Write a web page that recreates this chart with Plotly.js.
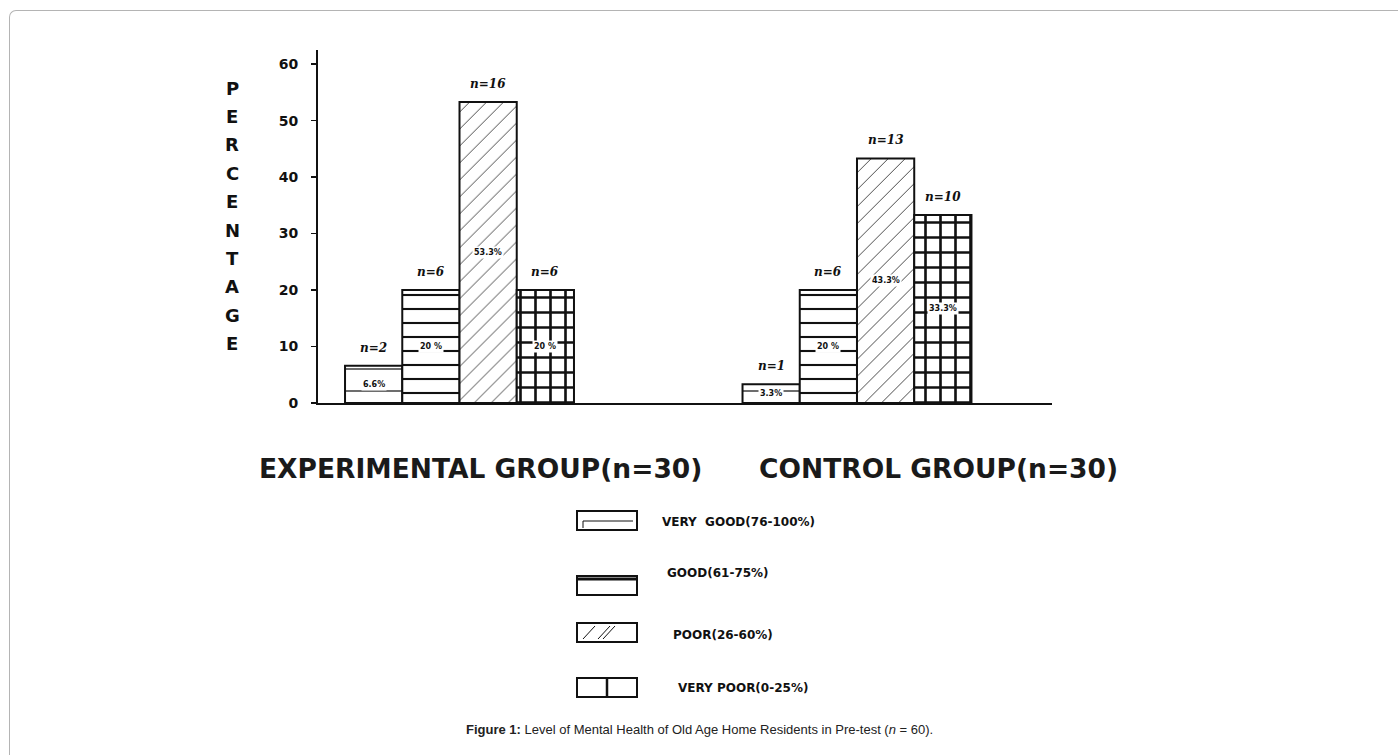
<!DOCTYPE html>
<html>
<head>
<meta charset="utf-8">
<script src="https://cdn.plot.ly/plotly-3.0.1.min.js"></script>
<style>
  html, body { margin: 0; padding: 0; background: #ffffff; overflow: hidden; }
  #wrap { position: relative; width: 1398px; height: 755px; }
  #chart { position: absolute; left: 0; top: 0; width: 1398px; height: 755px; }
  #frame { position: absolute; left: 9px; top: 10px; width: 1500px; height: 900px;
           border-top: 1.5px solid #b4b4b4; border-left: 1.5px solid #b4b4b4;
           border-top-left-radius: 7px; pointer-events: none; }
</style>
</head>
<body>
<div id="wrap">
  <div id="chart"></div>
  <div id="frame"></div>
</div>
<script>
// ---------------- data ----------------
const categories = ['EXPERIMENTAL GROUP(n=30)', 'CONTROL GROUP(n=30)'];
const seriesNames = ['VERY  GOOD(76-100%)', 'GOOD(61-75%)', 'POOR(26-60%)', 'VERY POOR(0-25%)'];
const veryGood = [6.6, 3.3];
const good = [20, 20];
const poor = [53.3, 43.3];
const veryPoor = [20, 33.3];
const nVeryGood = [2, 1];
const nGood = [6, 6];
const nPoor = [16, 13];
const nVeryPoor = [6, 10];
const pctVeryGood = ['6.6%', '3.3%'];
const pctGood = ['20 %', '20 %'];
const pctPoor = ['53.3%', '43.3%'];
const pctVeryPoor = ['20 %', '33.3%'];
const yTickVals = [0, 10, 20, 30, 40, 50, 60];
const yAxisWord = 'PERCENTAGE';
const caption = '<b>Figure 1:</b> Level of Mental Health of Old Age Home Residents in Pre-test (<i>n</i> = 60).';

// ---------------- layout geometry ----------------
const W = 1398, H = 755;
const M = { l: 318, r: 346, t: 50, b: 352 };
const plotW = W - M.l - M.r, plotH = H - M.t - M.b;
function px(x, y) { return { x: (x - M.l) / plotW, y: (H - M.b - y) / plotH }; }
const bargap = 0.424;
const barW = (1 - bargap) / 4;

const seriesValues = [veryGood, good, poor, veryPoor];
const seriesCounts = [nVeryGood, nGood, nPoor, nVeryPoor];
const seriesPct = [pctVeryGood, pctGood, pctPoor, pctVeryPoor];
const patterns = [
  { shape: '-', size: 22, solidity: 0.06, fgcolor: '#222', bgcolor: '#fff', fillmode: 'replace' },
  { shape: '-', size: 14, solidity: 0.15, fgcolor: '#111', bgcolor: '#fff', fillmode: 'replace' },
  { shape: '/', size: 12, solidity: 0.08, fgcolor: '#444', bgcolor: '#fff', fillmode: 'replace' },
  { shape: '+', size: 15, solidity: 0.32, fgcolor: '#111', bgcolor: '#fff', fillmode: 'replace' }
];

const traces = seriesValues.map((vals, k) => ({
  type: 'bar',
  name: seriesNames[k],
  x: categories,
  y: vals,
  marker: { color: '#fff', pattern: patterns[k], line: { color: '#111', width: 2 } },
  hoverinfo: 'name+y'
}));

const annotations = [];
// n= labels above bars and percentage labels inside bars
seriesValues.forEach((vals, k) => {
  vals.forEach((v, i) => {
    const xpos = i + (k - 1.5) * barW;
    annotations.push({
      x: xpos, y: v, xref: 'x', yref: 'y', yshift: 18, showarrow: false,
      xanchor: 'center', yanchor: 'middle',
      text: '<b><i>n=' + seriesCounts[k][i] + '</i></b>',
      font: { family: 'DejaVu Serif', size: 12, color: '#111' }
    });
    annotations.push({
      x: xpos, y: v / 2, xref: 'x', yref: 'y', showarrow: false,
      xanchor: 'center', yanchor: 'middle',
      text: '<b>' + seriesPct[k][i] + '</b>', bgcolor: '#fff', borderpad: 1,
      font: { family: 'DejaVu Sans', size: 8, color: '#111' }
    });
  });
});

// vertical axis word
yAxisWord.split('').forEach((ch, j) => {
  const p = px(232, 88 + j * 28.4);
  annotations.push({
    x: p.x, y: p.y, xref: 'paper', yref: 'paper', showarrow: false,
    xanchor: 'center', yanchor: 'middle',
    text: '<b>' + ch + '</b>',
    font: { family: 'DejaVu Sans', size: 18, color: '#111' }
  });
});

// group labels
const groupCentres = [480, 938];
categories.forEach((c, i) => {
  const p = px(groupCentres[i], 468);
  annotations.push({
    x: p.x, y: p.y, xref: 'paper', yref: 'paper', showarrow: false,
    xanchor: 'center', yanchor: 'middle',
    text: c, font: { family: 'DejaVu Sans', size: 26.5, color: '#1a1a1a', weight: 'bold' }
  });
});

// legend (manual)
const legendRows = [
  { box: 511, text: 522, tx: 660 },
  { box: 576, text: 573, tx: 665 },
  { box: 623, text: 635, tx: 671 },
  { box: 678, text: 688, tx: 676 }
];
const shapes = [];
function pRect(x0, y0, x1, y1, w) {
  const a = px(x0, y0), b = px(x1, y1);
  shapes.push({ type: 'rect', xref: 'paper', yref: 'paper', x0: a.x, y0: a.y, x1: b.x, y1: b.y,
                line: { color: '#111', width: w }, fillcolor: '#fff' });
}
function pLine(x0, y0, x1, y1, w) {
  const a = px(x0, y0), b = px(x1, y1);
  shapes.push({ type: 'line', xref: 'paper', yref: 'paper', x0: a.x, y0: a.y, x1: b.x, y1: b.y,
                line: { color: '#111', width: w } });
}
legendRows.forEach((r, k) => {
  const y0 = r.box, y1 = r.box + 19;
  pRect(577, y0, 637, y1, 2);
  if (k === 0) { pLine(583, y0 + 10, 633, y0 + 10, 1); pLine(583, y0 + 10, 583, y1 - 2, 1); }
  if (k === 1) { pLine(578, y0 + 3, 636, y0 + 3, 3); }
  if (k === 2) { pLine(583, y1 - 3, 595, y0 + 3, 1); pLine(598, y1 - 3, 610, y0 + 3, 1); pLine(603, y1 - 3, 615, y0 + 3, 1); }
  if (k === 3) { pLine(607, y0, 607, y1, 2.5); }
  const p = px(r.tx, r.text);
  annotations.push({
    x: p.x, y: p.y, xref: 'paper', yref: 'paper', xanchor: 'left', yanchor: 'middle', showarrow: false,
    text: seriesNames[k].replace(/ /g, '&nbsp;'),
    font: { family: 'DejaVu Sans', size: 12, color: '#111', weight: 'bold' }
  });
});

// caption
const cp = px(699, 729);
annotations.push({
  x: cp.x, y: cp.y, xref: 'paper', yref: 'paper', showarrow: false,
  xanchor: 'center', yanchor: 'middle',
  text: caption, font: { family: 'Liberation Sans', size: 13, color: '#222' }
});

const layout = {
  width: W, height: H,
  margin: M,
  paper_bgcolor: '#fff', plot_bgcolor: '#fff',
  showlegend: false,
  barmode: 'group', bargap: bargap, bargroupgap: 0,
  xaxis: {
    type: 'category', range: [-0.356, 1.4906],
    showline: true, linecolor: '#111', linewidth: 2,
    showgrid: false, zeroline: false, showticklabels: false, ticks: ''
  },
  yaxis: {
    range: [0, 62.5],
    tickvals: yTickVals,
    showline: true, linecolor: '#111', linewidth: 2,
    showgrid: false, zeroline: false,
    ticks: 'outside', ticklen: 5, tickwidth: 1.5, tickcolor: '#111',
    ticklabelstandoff: 10,
    tickfont: { family: 'DejaVu Sans', size: 14, color: '#111', weight: 'bold' }
  },
  annotations: annotations,
  shapes: shapes
};

Plotly.newPlot('chart', traces, layout, { staticPlot: true, displayModeBar: false });
</script>
</body>
</html>
